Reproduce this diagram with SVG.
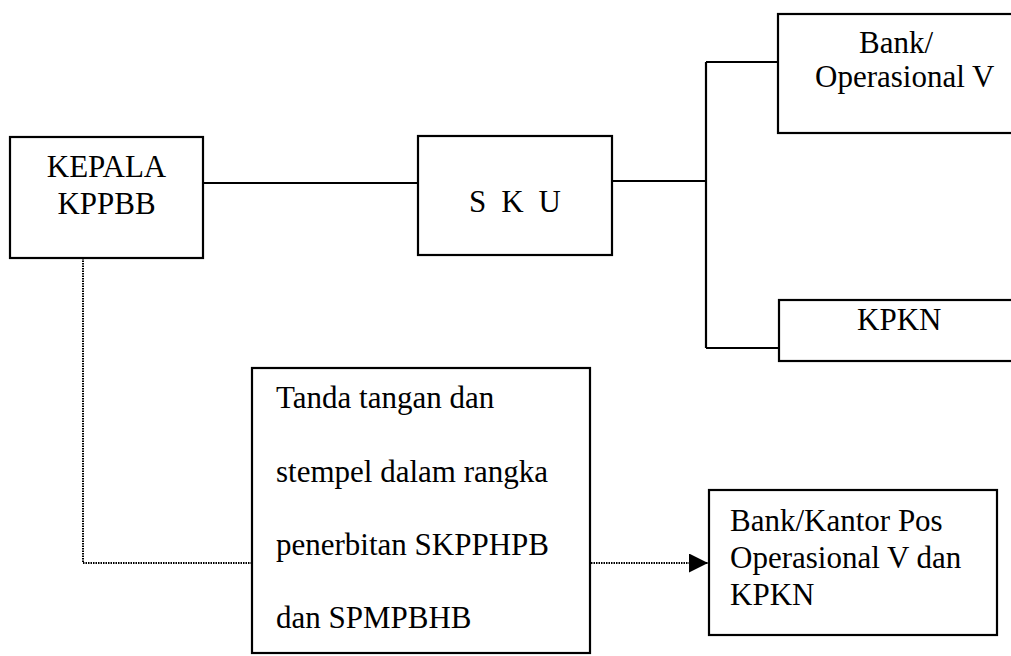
<svg xmlns="http://www.w3.org/2000/svg" width="1011" height="656" viewBox="0 0 1011 656">
<style>
.box{fill:#fff;stroke:#000;stroke-width:2.2}
.t{font-family:"Liberation Serif","Times New Roman",serif;font-size:31px;fill:#000}
.ln{fill:none;stroke:#000;stroke-width:2.2}
.dot{fill:none;stroke:#000;stroke-width:2;stroke-dasharray:1.5,1}
</style>
<defs>
<marker id="arr" markerUnits="userSpaceOnUse" markerWidth="20" markerHeight="20" refX="19" refY="9.5" orient="auto">
<path d="M0,0 L19,9.5 L0,19 Z" fill="#000"/>
</marker>
</defs>
<rect width="1011" height="656" fill="#fff"/>
<g id="connectors">
<path class="ln" d="M203,183 H418"/>
<path class="ln" d="M612,181 H706 M706,62 V348 M706,62 H778 M706,348 H779"/>
<path class="dot" d="M83,258 V563 H252"/>
<path class="dot" d="M591,563 H708" marker-end="url(#arr)"/>
</g>
<g id="kepala">
<rect class="box" x="10" y="137" width="193" height="121"/>
<text class="t" x="106.5" y="177" text-anchor="middle">KEPALA</text>
<text class="t" x="106.5" y="214" text-anchor="middle">KPPBB</text>
</g>
<g id="sku">
<rect class="box" x="418" y="136" width="194" height="119"/>
<text class="t" x="469" y="212" letter-spacing="3.6">S K U</text>
</g>
<g id="bank">
<rect class="box" x="778" y="14" width="260" height="119"/>
<text class="t" x="859" y="53">Bank/</text>
<text class="t" x="815" y="87">Operasional V</text>
</g>
<g id="kpkn">
<rect class="box" x="779" y="300" width="260" height="61"/>
<text class="t" x="857" y="330">KPKN</text>
</g>
<g id="tanda">
<rect class="box" x="252" y="368" width="338" height="285"/>
<text class="t" x="276" y="408">Tanda tangan dan</text>
<text class="t" x="276" y="482">stempel dalam rangka</text>
<text class="t" x="276" y="555">penerbitan SKPPHPB</text>
<text class="t" x="276" y="628">dan SPMPBHB</text>
</g>
<g id="bankpos">
<rect class="box" x="709" y="490" width="288" height="145"/>
<text class="t" x="730" y="531">Bank/Kantor Pos</text>
<text class="t" x="730" y="568">Operasional V dan</text>
<text class="t" x="730" y="605">KPKN</text>
</g>
</svg>
